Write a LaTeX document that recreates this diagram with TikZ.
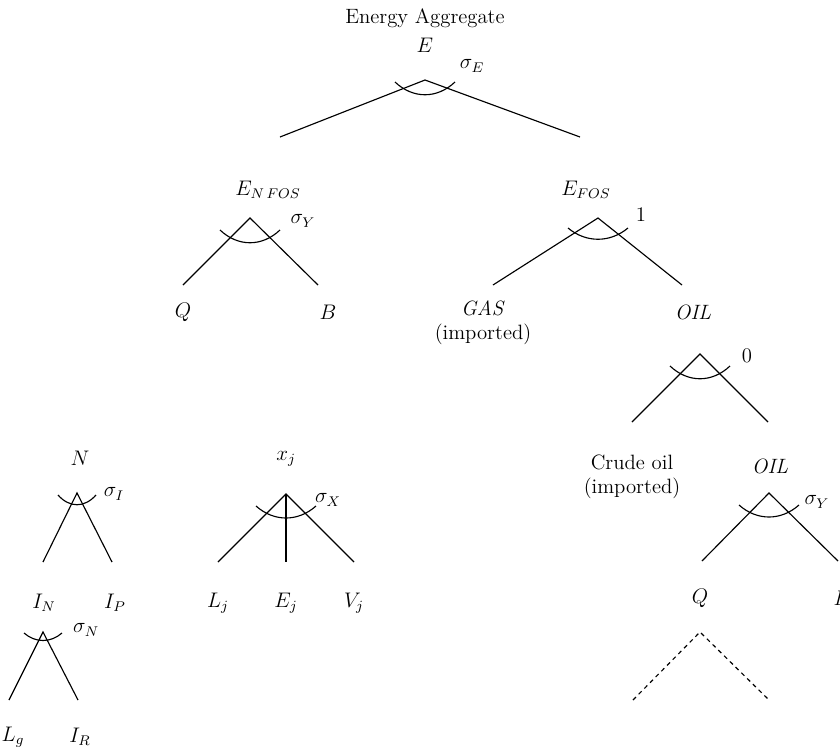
\documentclass[tikz,border=0pt]{standalone}
\usepackage{tikz}
\usetikzlibrary{calc}

% elasticity arc under an apex: apex, half width, drop, sag
\newcommand{\elasarc}[4]{%
  \draw[branch] ($(#1)+(-#2,#3)$) .. controls +({0.6*#2},#4) and +({-0.6*#2},#4) .. ($(#1)+(#2,#3)$);}

\begin{document}
\begin{tikzpicture}[
  x=0.02cm, y=-0.02cm,
  every node/.style={font=\fontsize{11.8}{13.5}\selectfont, inner sep=1pt},
  branch/.style={line width=0.65pt},
  futbranch/.style={line width=0.65pt, dash pattern=on 2.4pt off 2.2pt},
  lbl/.style={align=center}
]
\useasboundingbox (0,0) rectangle (840,751);

% Top nest
\node (agg) at (425,18) {Energy Aggregate};
\node (E) at (425,45) {$E$};
\node (sigE) at (472,66) {$\sigma_E$};
\coordinate (topA) at (425,80);
\coordinate (topL) at (280,137);
\coordinate (topR) at (580,137);
\draw[branch] (topL) -- (topA) -- (topR);
\elasarc{topA}{30}{2}{17}

% Non-fossil energy
\node (Enfos) at (268,190) {$E_{N\,FOS}$};
\node (sigY1) at (303,221) {$\sigma_Y$};
\coordinate (nfA) at (250,218);
\coordinate (nfL) at (183,285);
\coordinate (nfR) at (318,285);
\draw[branch] (nfL) -- (nfA) -- (nfR);
\elasarc{nfA}{30}{12}{17}
\node (Q1) at (183,312) {$Q$};
\node (B1) at (328,312) {$B$};

% Fossil energy
\node (Efos) at (586,190) {$E_{FOS}$};
\node (one) at (641,215) {1};
\coordinate (fA) at (598,218);
\coordinate (fL) at (493,285);
\coordinate (fR) at (682,285);
\draw[branch] (fL) -- (fA) -- (fR);
\elasarc{fA}{30}{10}{15}
\node[lbl] (gas) at (483,323) {\textit{GAS}\\(imported)};
\node (oil1) at (693,312) {\textit{OIL}};

% Oil nest
\node (zero) at (747,356) {0};
\coordinate (oA) at (700,354);
\coordinate (oL) at (632,422);
\coordinate (oR) at (768,422);
\draw[branch] (oL) -- (oA) -- (oR);
\elasarc{oA}{30}{12}{17}
\node[lbl] (crude) at (632,477) {Crude oil\\(imported)};
\node (oil2) at (770,466) {\textit{OIL}};

% Refined oil
\node (sigY2) at (817,502) {$\sigma_Y$};
\coordinate (rA) at (769,493);
\coordinate (rL) at (702,561);
\coordinate (rR) at (838,561);
\draw[branch] (rL) -- (rA) -- (rR);
\elasarc{rA}{30}{12}{16}
\node (Q2) at (700,598) {$Q$};
\node (B2) at (842,598) {$B$};

% Further nesting below Q
\coordinate (dA) at (700,632);
\coordinate (dL) at (633,700);
\coordinate (dR) at (769,700);
\draw[futbranch] (dL) -- (dA) -- (dR);

% Investment nest
\node (N) at (80,458) {$N$};
\node (sigI) at (114,494) {$\sigma_I$};
\coordinate (nA) at (77,493);
\coordinate (nL) at (43,562);
\coordinate (nR) at (112,562);
\draw[branch] (nL) -- (nA) -- (nR);
\elasarc{nA}{19}{2}{13}
\node (IN) at (44,603) {$I_N$};
\node (IP) at (115,603) {$I_P$};

\node (sigN) at (86,630) {$\sigma_N$};
\coordinate (iA) at (43,632);
\coordinate (iL) at (9,700);
\coordinate (iR) at (78,700);
\draw[branch] (iL) -- (iA) -- (iR);
\elasarc{iA}{19}{1}{10}
\node (Lg) at (13,737) {$L_g$};
\node (IR) at (80,737) {$I_R$};

% Production of good j
\node (xj) at (286,459) {$x_j$};
\node (sigX) at (328,500) {$\sigma_X$};
\coordinate (xA) at (286,494);
\coordinate (xL) at (218,562);
\coordinate (xM) at (286,562);
\coordinate (xR) at (354,562);
\draw[branch] (xL) -- (xA) -- (xR);
\draw[branch] (xA) -- (xM);
\elasarc{xA}{30}{12}{16}
\node (Lj) at (218,603) {$L_j$};
\node (Ej) at (286,603) {$E_j$};
\node (Vj) at (354,603) {$V_j$};

\end{tikzpicture}
\end{document}
